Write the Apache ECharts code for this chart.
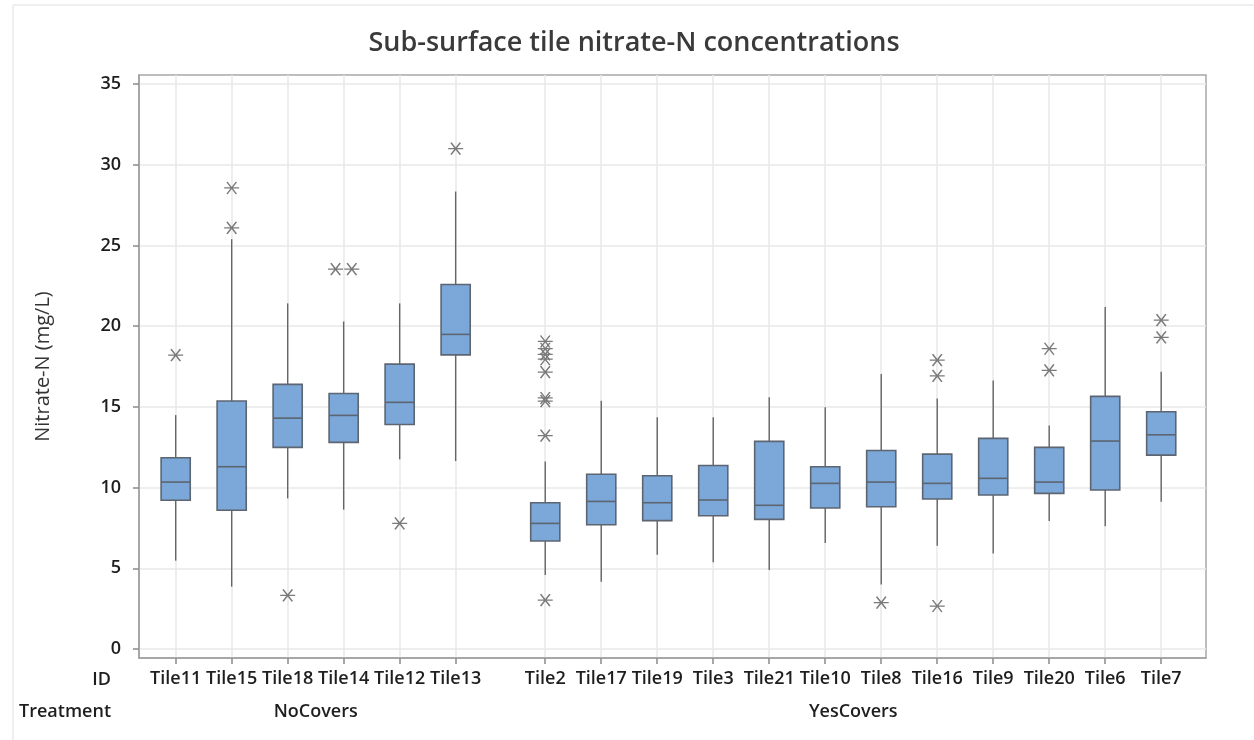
<!DOCTYPE html>
<html>
<head>
<meta charset="utf-8">
<title>Sub-surface tile nitrate-N concentrations</title>
<script src="https://cdn.jsdelivr.net/npm/echarts@6/dist/echarts.min.js"></script>
<style>
  html, body { margin: 0; padding: 0; background: #ffffff; }
  #chart { width: 1254px; height: 740px; }
</style>
</head>
<body>
<div id="chart"></div>
<script>
// Tile IDs in plotting order, with the cover-crop treatment of each tile
const tileIds = ['Tile11', 'Tile15', 'Tile18', 'Tile14', 'Tile12', 'Tile13',
  'Tile2', 'Tile17', 'Tile19', 'Tile3', 'Tile21', 'Tile10', 'Tile8', 'Tile16', 'Tile9', 'Tile20', 'Tile6', 'Tile7'];
const treatments = ['NoCovers', 'NoCovers', 'NoCovers', 'NoCovers', 'NoCovers', 'NoCovers',
  'YesCovers', 'YesCovers', 'YesCovers', 'YesCovers', 'YesCovers', 'YesCovers',
  'YesCovers', 'YesCovers', 'YesCovers', 'YesCovers', 'YesCovers', 'YesCovers'];

// Box-plot statistics, nitrate-N (mg/L)
const whiskerLow  = [5.47, 3.86, 9.33, 8.63, 11.75, 11.64, 4.58, 4.17, 5.84, 5.37, 4.89, 6.56, 4.00, 6.40, 5.92, 7.93, 7.60, 9.12];
const quartile1   = [9.21, 8.59, 12.49, 12.80, 13.91, 18.22, 6.69, 7.70, 7.95, 8.25, 8.03, 8.73, 8.81, 9.29, 9.54, 9.64, 9.85, 12.01];
const medians     = [10.34, 11.29, 14.30, 14.47, 15.28, 19.49, 7.78, 9.14, 9.06, 9.23, 8.90, 10.26, 10.34, 10.26, 10.57, 10.34, 12.88, 13.27];
const quartile3   = [11.85, 15.36, 16.39, 15.83, 17.65, 22.58, 9.06, 10.82, 10.73, 11.37, 12.86, 11.29, 12.30, 12.07, 13.05, 12.49, 15.65, 14.70];
const whiskerHigh = [14.49, 25.39, 21.41, 20.29, 21.41, 28.34, 11.62, 15.38, 14.35, 14.35, 15.60, 14.97, 17.03, 15.52, 16.63, 13.85, 21.18, 17.17];

// Outlying observations for each tile
const outlierValues = [
  [18.2],
  [28.56, 26.09],
  [3.32],
  [23.53, 23.53],
  [7.78],
  [31.0],
  [19.05, 18.6, 18.25, 17.95, 17.15, 15.55, 15.35, 13.22, 3.03],
  [], [], [], [], [],
  [2.87],
  [17.89, 16.92, 2.66],
  [],
  [18.6, 17.26],
  [],
  [20.37, 19.3]
];

const yTicks = [0, 5, 10, 15, 20, 25, 30, 35];

// ---- layout helpers -------------------------------------------------------
const GROUP_GAP = 0.6;      // extra space between treatment groups, in tile slots
const BOX_WIDTH = 0.52;     // box width, in tile slots
const positions = [];
let pos = 0;
tileIds.forEach((id, i) => {
  if (i > 0) pos += 1 + (treatments[i] !== treatments[i - 1] ? GROUP_GAP : 0);
  positions.push(pos);
});

const boxData = tileIds.map((id, i) => [positions[i], whiskerLow[i], quartile1[i], medians[i], quartile3[i], whiskerHigh[i]]);

// tied outliers are spread side by side
const outlierData = [];
outlierValues.forEach((vals, i) => {
  const groups = [];
  vals.forEach(v => {
    const g = groups.find(gr => Math.abs(gr.v - v) < 0.05);
    if (g) g.n++; else groups.push({ v, n: 1 });
  });
  groups.forEach(g => {
    for (let j = 0; j < g.n; j++) {
      outlierData.push([positions[i] + (j - (g.n - 1) / 2) * 0.29, g.v]);
    }
  });
});

const FONT = '"Open Sans", "Noto Sans", sans-serif';
const labelByPos = (v) => {
  const k = positions.findIndex(p => Math.abs(p - v) < 1e-6);
  return k >= 0 ? tileIds[k] : '';
};

const asterisk = 'path://M0,6 L16,6 M3,0 L13,12 M13,0 L3,12';

const chart = echarts.init(document.getElementById('chart'), null, { renderer: 'canvas' });

const option = {
  backgroundColor: '#ffffff',
  animation: false,
  grid: {
    left: 139, right: 48, top: 75, bottom: 82,
    show: true, borderColor: '#a8a8a8', borderWidth: 1.5, backgroundColor: 'transparent'
  },
  xAxis: {
    type: 'value',
    min: positions[0] - 0.655,
    max: positions[positions.length - 1] + 0.8,
    axisLine: { show: true, onZero: false, lineStyle: { color: '#a0a0a0', width: 1.5 } },
    axisTick: { show: true, customValues: positions, length: 6, inside: false, lineStyle: { color: '#8a8a8a', width: 1.5 } },
    axisLabel: {
      customValues: positions, formatter: labelByPos, margin: 12,
      color: '#1e1e1e', fontSize: 18, fontWeight: 600, fontFamily: FONT
    },
    splitLine: { show: true, lineStyle: { color: '#e8e8e8', width: 1.5 } }
  },
  yAxis: {
    type: 'value',
    min: -0.56, max: 35.56,
    name: 'Nitrate-N (mg/L)',
    nameLocation: 'middle',
    nameGap: 86,
    nameTextStyle: { color: '#333', fontSize: 20, fontWeight: 500, fontFamily: FONT },
    axisLine: { show: true, onZero: false, lineStyle: { color: '#a0a0a0', width: 1.5 } },
    axisTick: { show: true, customValues: yTicks, length: 6, lineStyle: { color: '#8a8a8a', width: 1.5 } },
    axisLabel: { customValues: yTicks, margin: 18, color: '#1e1e1e', fontSize: 18, fontWeight: 600, fontFamily: FONT },
    splitLine: { show: true, lineStyle: { color: '#e8e8e8', width: 1.5 } }
  },
  series: [
    {
      name: 'Nitrate-N',
      type: 'custom',
      data: boxData,
      encode: { x: 0, y: [1, 2, 3, 4, 5] },
      z: 3,
      renderItem: function (params, api) {
        const x = api.value(0);
        const pLo = api.coord([x, api.value(1)]);
        const pQ1 = api.coord([x, api.value(2)]);
        const pMed = api.coord([x, api.value(3)]);
        const pQ3 = api.coord([x, api.value(4)]);
        const pHi = api.coord([x, api.value(5)]);
        const half = api.size([BOX_WIDTH, 0])[0] / 2;
        const whisker = { stroke: '#62666c', lineWidth: 1.4 };
        return {
          type: 'group',
          children: [
            { type: 'line', shape: { x1: pLo[0], y1: pLo[1], x2: pQ1[0], y2: pQ1[1] }, style: whisker },
            { type: 'line', shape: { x1: pQ3[0], y1: pQ3[1], x2: pHi[0], y2: pHi[1] }, style: whisker },
            {
              type: 'rect',
              shape: { x: pQ1[0] - half, y: pQ3[1], width: half * 2, height: pQ1[1] - pQ3[1] },
              style: { fill: '#7ba7d9', stroke: '#5c6570', lineWidth: 1.6 }
            },
            {
              type: 'line',
              shape: { x1: pMed[0] - half, y1: pMed[1], x2: pMed[0] + half, y2: pMed[1] },
              style: { stroke: '#5c6570', lineWidth: 1.6 }
            }
          ]
        };
      }
    },
    {
      name: 'Outliers',
      type: 'scatter',
      data: outlierData,
      symbol: asterisk,
      symbolSize: [15, 12],
      z: 4,
      itemStyle: { color: 'transparent', borderColor: '#7a7a7a', borderWidth: 1.4, opacity: 1 }
    }
  ],
  graphic: [
    {
      type: 'rect', silent: true, z: -1,
      shape: { x: 13, y: 5, width: 1260, height: 760 },
      style: { fill: 'none', stroke: '#e0e0e0', lineWidth: 1 }
    },
    {
      type: 'text', x: 634, y: 43, z: 10,
      style: {
        text: 'Sub-surface tile nitrate-N concentrations', fill: '#3a3a3a',
        font: '600 27px ' + FONT, textAlign: 'center', textVerticalAlign: 'middle'
      }
    }
  ]
};

chart.setOption(option);

// Row captions under the axis: ID row and the treatment group names
const rowY1 = 680, rowY2 = 712;
const captionFont = '600 18px ' + FONT;
const groupNames = [...new Set(treatments)];
const groupTexts = groupNames.map(g => {
  const xs = positions.filter((p, i) => treatments[i] === g);
  const mid = (xs[0] + xs[xs.length - 1]) / 2;
  const px = chart.convertToPixel({ gridIndex: 0 }, [mid, 0])[0];
  return {
    type: 'text', x: px, y: rowY2, z: 10,
    style: { text: g, fill: '#1e1e1e', font: captionFont, textAlign: 'center', textVerticalAlign: 'middle' }
  };
});

chart.setOption({
  graphic: option.graphic.concat([
    { type: 'text', x: 111, y: rowY1, z: 10,
      style: { text: 'ID', fill: '#1e1e1e', font: captionFont, textAlign: 'right', textVerticalAlign: 'middle' } },
    { type: 'text', x: 111, y: rowY2, z: 10,
      style: { text: 'Treatment', fill: '#1e1e1e', font: captionFont, textAlign: 'right', textVerticalAlign: 'middle' } }
  ], groupTexts)
});
</script>
</body>
</html>
